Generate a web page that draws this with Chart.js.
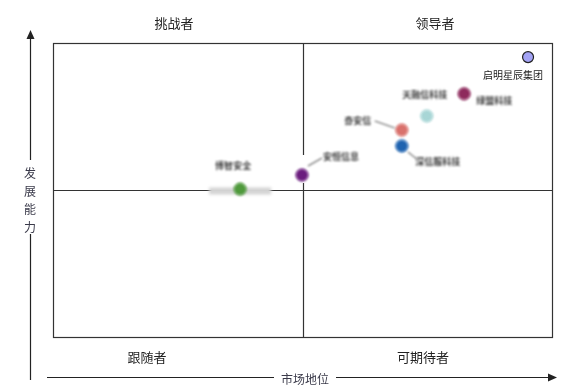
<!DOCTYPE html>
<html>
<head>
<meta charset="utf-8">
<script src="https://cdn.jsdelivr.net/npm/chart.js@4"></script>
<style>
  html, body { margin: 0; padding: 0; background: #fff; }
  #wrap { width: 572px; height: 391px; }
</style>
</head>
<body>
<div id="wrap"><canvas id="quadChart"></canvas></div>
<script>
// data
const companies = ['启明星辰集团', '绿盟科技', '天融信科技', '奇安信', '深信服科技', '安恒信息', '博智安全'];
const marketPosition = [9.52, 8.24, 7.49, 6.99, 6.99, 4.99, 3.75];
const capability = [9.52, 8.27, 7.52, 7.04, 6.50, 5.51, 5.03];
const pointColors = ['#a3a3f5', '#8e2a5c', '#a8d6d6', '#d9716c', '#1f63b0', '#6b1d7e', '#4f9a3c'];
const quadrantNames = ['挑战者', '领导者', '跟随者', '可期待者'];
const axisNames = ['市场地位', '发展能力'];

const FONT = '"Noto Sans CJK SC", "Noto Sans", sans-serif';

// label offset from point: [dx, dy, leader line or null]
const labelOffsets = [
  [-15, 18, null],
  [30, 7, null],
  [-2, -21, null],
  [-44, -9, [-27, -9, -7, -2]],
  [36, 16, [6, 6, 16, 14]],
  [39, -18, [6, -9, 20, -17]],
  [-7, -24, null]
];

function toPoints(idx) {
  return idx.map(i => ({ x: marketPosition[i], y: capability[i] }));
}

const rest = companies.map((c, i) => i).slice(1);

const quadrantPlugin = {
  id: 'quadrant',
  beforeDatasetsDraw(chart) {
    const { ctx, chartArea: a, scales: { x, y } } = chart;
    const mx = Math.round(x.getPixelForValue(5)) + 0.5;
    const my = Math.round(y.getPixelForValue(5)) + 0.5;
    ctx.save();
    ctx.strokeStyle = '#333';
    ctx.lineWidth = 1.2;
    ctx.strokeRect(Math.round(a.left) + 0.5, Math.round(a.top) + 0.5, Math.round(a.width), Math.round(a.height));
    ctx.beginPath();
    ctx.moveTo(mx, a.top); ctx.lineTo(mx, a.bottom);
    ctx.moveTo(a.left, my); ctx.lineTo(a.right, my);
    ctx.stroke();

    // blurred patches behind some labels
    ctx.filter = 'blur(1.5px)';
    ctx.fillStyle = '#d4d4d4';
    const gx = x.getPixelForValue(marketPosition[6]);
    ctx.fillRect(gx - 31, my - 3, 62, 7);
    ctx.fillStyle = '#fff';
    const px = x.getPixelForValue(marketPosition[5]);
    const py = y.getPixelForValue(capability[5]);
    ctx.filter = 'none';
    ctx.fillRect(px - 8, py - 20, 18, 28);
    ctx.restore();
  },
  beforeDatasetDraw(chart, args) {
    if (args.index === 1) {
      chart.ctx.save();
      chart.ctx.filter = 'blur(1.3px)';
    }
  },
  afterDatasetDraw(chart, args) {
    if (args.index === 1) chart.ctx.restore();
  },
  afterDraw(chart) {
    const { ctx, chartArea: a, scales: { x, y } } = chart;
    ctx.save();

    // point labels
    ctx.textAlign = 'center';
    ctx.textBaseline = 'middle';
    companies.forEach((name, i) => {
      const px = x.getPixelForValue(marketPosition[i]);
      const py = y.getPixelForValue(capability[i]);
      const [dx, dy, lead] = labelOffsets[i];
      ctx.save();
      if (i > 0) ctx.filter = 'blur(1.3px)';
      ctx.fillStyle = i === 0 ? '#222' : '#3c3c3c';
      ctx.font = (i === 0 ? '10px ' : 'bold 9px ') + FONT;
      ctx.fillText(name, px + dx, py + dy);
      if (lead) {
        ctx.strokeStyle = '#666';
        ctx.lineWidth = 1.2;
        ctx.beginPath();
        ctx.moveTo(px + lead[0], py + lead[1]);
        ctx.lineTo(px + lead[2], py + lead[3]);
        ctx.stroke();
      }
      ctx.restore();
    });

    // quadrant names
    ctx.fillStyle = '#222';
    ctx.font = '13px ' + FONT;
    ctx.fillText(quadrantNames[0], 174, 23);
    ctx.fillText(quadrantNames[1], 435, 23);
    ctx.fillText(quadrantNames[2], 147, 357);
    ctx.fillText(quadrantNames[3], 423, 357);

    // x axis arrow
    ctx.strokeStyle = '#222';
    ctx.fillStyle = '#222';
    ctx.lineWidth = 1.2;
    const ay = 377.5;
    ctx.beginPath();
    ctx.moveTo(47, ay); ctx.lineTo(274, ay);
    ctx.moveTo(336, ay); ctx.lineTo(549, ay);
    ctx.stroke();
    ctx.beginPath();
    ctx.moveTo(557, ay); ctx.lineTo(548, ay - 4); ctx.lineTo(548, ay + 4);
    ctx.closePath(); ctx.fill();

    // y axis arrow
    const ax = 30.5;
    ctx.beginPath();
    ctx.moveTo(ax, 380); ctx.lineTo(ax, 234);
    ctx.moveTo(ax, 160); ctx.lineTo(ax, 37);
    ctx.stroke();
    ctx.beginPath();
    ctx.moveTo(ax, 30); ctx.lineTo(ax - 4, 39); ctx.lineTo(ax + 4, 39);
    ctx.closePath(); ctx.fill();

    // axis titles
    ctx.fillStyle = '#3a3a4a';
    ctx.font = '12px ' + FONT;
    ctx.fillText(axisNames[0], 305, 379);
    Array.from(axisNames[1]).forEach((ch, k) => {
      ctx.fillText(ch, 30, 173 + k * 18);
    });
    ctx.restore();
  }
};

const ctx = document.getElementById('quadChart').getContext('2d');
const quadChart = new Chart(ctx, {
  type: 'scatter',
  data: {
    datasets: [
      {
        data: toPoints([0]),
        backgroundColor: pointColors[0],
        borderColor: '#222',
        borderWidth: 1.2,
        pointRadius: 5.5,
        clip: false
      },
      {
        data: toPoints(rest),
        backgroundColor: rest.map(i => pointColors[i]),
        borderColor: rest.map(i => pointColors[i]),
        borderWidth: 1,
        pointRadius: 6,
        clip: false
      }
    ]
  },
  options: {
    responsive: true,
    maintainAspectRatio: false,
    animation: false,
    layout: { padding: { left: 53, top: 43, right: 20, bottom: 54 } },
    plugins: { legend: { display: false }, tooltip: { enabled: false } },
    scales: {
      x: { type: 'linear', min: 0, max: 10, display: false },
      y: { type: 'linear', min: 0, max: 10, display: false }
    }
  },
  plugins: [quadrantPlugin]
});
</script>
</body>
</html>
